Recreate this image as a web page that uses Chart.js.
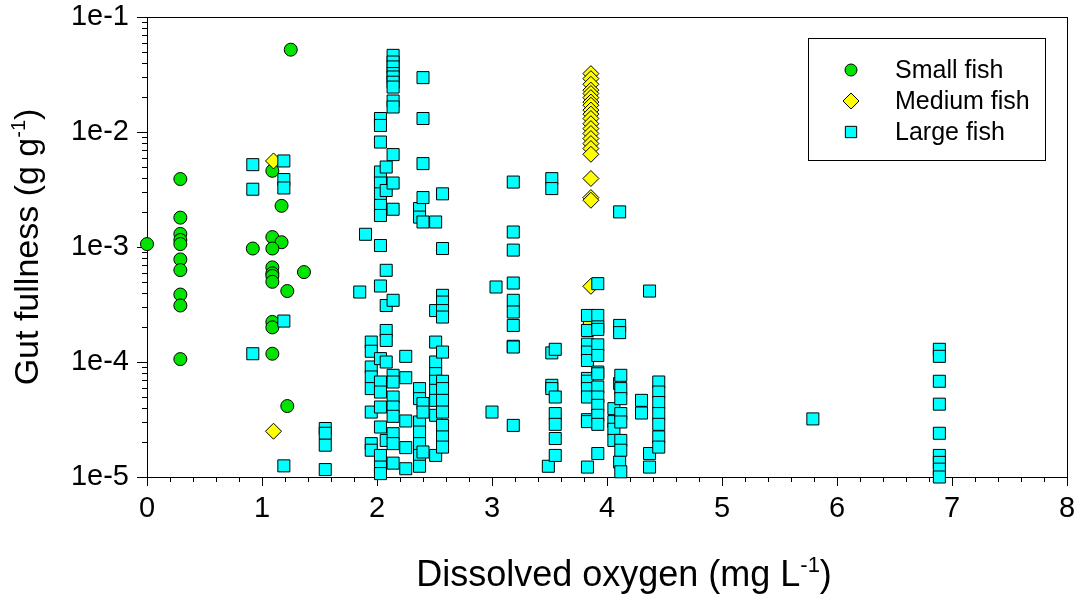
<!DOCTYPE html>
<html>
<head>
<meta charset="utf-8">
<script src="https://cdn.jsdelivr.net/npm/chart.js@4/dist/chart.umd.min.js"></script>
<style>
  html, body { margin: 0; padding: 0; background: #fff; }
  #wrap { width: 1081px; height: 596px; }
</style>
</head>
<body>
<div id="wrap"><canvas id="scatter" width="1081" height="596"></canvas></div>
<script>
// Small fish: dissolved oxygen (mg/L) vs gut fullness (g/g)
var smallX = [0, 0.29, 0.29, 0.29, 0.29, 0.29, 0.29, 0.29, 0.29, 0.29, 0.29,
  0.92, 1.09, 1.17, 1.09, 1.17, 1.09, 1.09, 1.09, 1.09, 1.09,
  1.365, 1.22, 1.09, 1.09, 1.09, 1.22, 1.25];
var smallY = [1.06e-3, 3.9e-3, 1.8e-3, 1.3e-3, 1.15e-3, 1.06e-3, 7.8e-4, 6.3e-4, 3.86e-4, 3.1e-4, 1.06e-4,
  9.7e-4, 4.6e-3, 2.28e-3, 1.22e-3, 1.1e-3, 9.7e-4, 6.65e-4, 5.9e-4, 5.6e-4, 4.98e-4,
  6.05e-4, 4.14e-4, 2.23e-4, 2.0e-4, 1.18e-4, 4.14e-5, 5.2e-2];

// Medium fish
var mediumX = [1.1, 1.1, 3.86, 3.86, 3.86, 3.86, 3.86, 3.86, 3.86, 3.86, 3.86, 3.86, 3.86,
  3.86, 3.86, 3.86, 3.86, 3.86, 3.86, 3.86, 3.86, 3.86, 3.86, 3.86, 3.86];
var mediumY = [5.6e-3, 2.5e-5, 0.0322, 0.0291, 0.026, 0.0231, 0.0216, 0.0199, 0.0182, 0.0171, 0.0155, 0.0143, 0.0131,
  0.0118, 0.0107, 0.0097, 0.00877, 0.00793, 0.00718, 0.0064, 0.00394, 0.00269, 0.00255, 0.000455, 0.000218];

// Large fish, grouped by oxygen value
var largeX = [0.92, 1.19, 1.55, 1.85, 1.90, 1.95, 2.03, 2.08, 2.14, 2.25, 2.37, 2.40, 2.51, 2.57,
  3.00, 3.035, 3.185, 3.49, 3.52, 3.55, 3.83, 3.92, 4.06, 4.11, 4.12, 4.30, 4.37, 4.45, 5.79, 6.89];
var largeY = [
  [5.2e-3, 3.18e-3, 1.18e-4],
  [5.6e-3, 3.86e-3, 3.26e-3, 2.27e-4, 1.25e-5],
  [2.64e-5, 2.4e-5, 1.89e-5, 1.16e-5],
  [4.06e-4],
  [1.29e-3],
  [1.49e-4, 1.24e-4, 9.05e-5, 7.41e-5, 5.87e-5, 3.67e-5, 1.95e-5, 1.71e-5],
  [0.0131, 0.0114, 0.00818, 0.00449, 0.0036, 0.0029, 0.0023, 0.00188, 0.00103, 4.58e-4,
    1.07e-4, 6.7e-5, 5.48e-5, 4.06e-5, 2.72e-5, 1.54e-5, 1.22e-5, 1.07e-5],
  [0.00496, 0.0031, 6.27e-4, 3.1e-4, 1.88e-4, 1.54e-4, 1.0e-4, 2.08e-5],
  [0.0464, 0.0406, 0.0368, 0.0322, 0.0301, 0.0271, 0.0246, 0.0186, 0.0165, 0.00636, 0.0036, 0.00213,
    3.44e-4, 7.66e-5, 6.7e-5, 4.96e-5, 4.06e-5, 3.37e-5, 2.38e-5, 1.95e-5, 1.32e-5],
  [1.12e-4, 7.3e-5, 3.07e-5, 1.8e-5, 1.18e-5],
  [0.00216, 0.00182, 5.87e-5, 4.8e-5, 3.01e-5, 2.46e-5, 1.95e-5, 1.54e-5, 1.24e-5],
  [0.0297, 0.0131, 0.00531, 0.00269, 0.00165, 4.35e-5, 3.67e-5, 1.65e-5],
  [0.00165, 2.8e-4, 1.49e-4, 1.0e-4, 7.92e-5, 6.8e-5, 5.67e-5, 4.64e-5, 3.44e-5, 1.54e-5],
  [0.0029, 9.7e-4, 3.8e-4, 3.32e-4, 2.8e-4, 2.46e-4, 1.22e-4, 6.8e-5, 5.87e-5, 4.64e-5,
    3.67e-5, 2.81e-5, 2.23e-5, 1.82e-5],
  [3.67e-5],
  [4.49e-4],
  [0.00367, 0.00135, 9.4e-4, 4.86e-4, 3.44e-4, 2.72e-4, 2.08e-4, 1.37e-4, 1.35e-4, 2.81e-5],
  [1.24e-5],
  [0.00393, 0.00322, 1.2e-4, 6.27e-5, 5.87e-5],
  [1.29e-4, 4.96e-5, 3.56e-5, 2.87e-5, 2.16e-5, 1.54e-5],
  [2.54e-4, 1.88e-4, 1.43e-4, 1.22e-4, 1.03e-4, 7.2e-5, 6.8e-5, 5.87e-5, 4.96e-5, 3.15e-5, 3.03e-5, 1.22e-5],
  [4.8e-4, 2.54e-4, 2.02e-4, 1.92e-4, 1.41e-4, 1.14e-4, 8.18e-5, 7.9e-5, 6.06e-5, 4.96e-5,
    4.2e-5, 3.44e-5, 2.87e-5, 1.6e-5],
  [3.93e-5, 3.03e-5, 2.6e-5, 2.08e-5],
  [0.00202, 2.08e-4, 1.8e-4, 6.5e-5, 1.35e-5],
  [7.66e-5, 5.87e-5, 4.8e-5, 3.56e-5, 3.01e-5, 2.08e-5, 1.71e-5, 1.11e-5],
  [4.64e-5, 3.6e-5],
  [4.14e-4, 1.6e-5, 1.22e-5],
  [6.7e-5, 5.48e-5, 4.44e-5, 3.56e-5, 2.87e-5, 2.23e-5, 1.82e-5],
  [3.2e-5],
  [1.29e-4, 1.12e-4, 6.8e-5, 4.3e-5, 2.4e-5, 1.54e-5, 1.34e-5, 1.17e-5, 1.0e-5]
];

var yTickValues = [1e-5, 1e-4, 1e-3, 1e-2, 1e-1];
var xTickValues = [0, 1, 2, 3, 4, 5, 6, 7, 8];

var FONT = "'Liberation Sans', Arial, sans-serif";

function pairs(xs, ys) {
  return xs.map(function (x, i) { return { x: x, y: ys[i] }; });
}
var largePoints = [];
largeX.forEach(function (x, i) {
  largeY[i].forEach(function (y) { largePoints.push({ x: x, y: y }); });
});

// axis frame + tick marks (under the points)
var frame = {
  id: 'frame',
  beforeDatasetsDraw: function (chart) {
    var ctx = chart.ctx, a = chart.chartArea, xs = chart.scales.x, ys = chart.scales.y;
    ctx.save();
    ctx.strokeStyle = '#000';
    ctx.lineWidth = 1;
    ctx.strokeRect(Math.round(a.left) + 0.5, Math.round(a.top) + 0.5,
      Math.round(a.right - a.left), Math.round(a.bottom - a.top));
    ctx.beginPath();
    for (var e = -5; e <= -1; e++) {
      for (var m = 1; m <= 9; m++) {
        if (e === -1 && m > 1) break;
        var py = Math.round(ys.getPixelForValue(m * Math.pow(10, e))) + 0.5;
        ctx.moveTo(a.left, py);
        ctx.lineTo(a.left - (m === 1 ? 10 : 5), py);
      }
    }
    for (var i = 0; i <= 40; i++) {
      var px = Math.round(xs.getPixelForValue(i / 5)) + 0.5;
      ctx.moveTo(px, a.bottom);
      ctx.lineTo(px, a.bottom + (i % 5 === 0 ? 9 : 5));
    }
    ctx.stroke();
    ctx.restore();
  }
};

function supText(ctx, main, sup, tail, cx, y, size) {
  ctx.font = size + 'px ' + FONT;
  var w1 = ctx.measureText(main).width, w3 = ctx.measureText(tail).width;
  ctx.font = Math.round(size * 0.6) + 'px ' + FONT;
  var w2 = ctx.measureText(sup).width;
  var x = cx - (w1 + w2 + w3) / 2;
  ctx.textAlign = 'left';
  ctx.textBaseline = 'alphabetic';
  ctx.font = size + 'px ' + FONT;
  ctx.fillText(main, x, y);
  ctx.font = Math.round(size * 0.6) + 'px ' + FONT;
  ctx.fillText(sup, x + w1, y - size * 0.38);
  ctx.font = size + 'px ' + FONT;
  ctx.fillText(tail, x + w1 + w2, y);
}

var titlesAndLegend = {
  id: 'titlesAndLegend',
  afterDraw: function (chart) {
    var ctx = chart.ctx, a = chart.chartArea;
    ctx.save();
    ctx.fillStyle = '#000';
    supText(ctx, 'Dissolved oxygen (mg L', '-1', ')', (a.left + a.right) / 2 + 17, 586, 36);
    ctx.translate(38, (a.top + a.bottom) / 2);
    ctx.rotate(-Math.PI / 2);
    supText(ctx, 'Gut fullness (g g', '-1', ')', 0, 0, 34);
    ctx.restore();

    // legend box
    ctx.save();
    ctx.strokeStyle = '#000';
    ctx.lineWidth = 1;
    ctx.fillStyle = '#fff';
    ctx.fillRect(808, 38, 237, 122);
    ctx.strokeRect(808.5, 38.5, 237, 122);
    var sets = chart.data.datasets.slice().sort(function (p, q) { return q.order - p.order; });
    sets.forEach(function (ds, i) {
      var cy = 70 + i * 31;
      ctx.fillStyle = ds.backgroundColor;
      ctx.strokeStyle = '#000';
      ctx.lineWidth = 1;
      Chart.helpers.drawPoint(ctx, { pointStyle: ds.pointStyle, radius: ds.legendRadius, rotation: 0, borderWidth: 1 }, 851, cy);
      ctx.fillStyle = '#000';
      ctx.font = '25px ' + FONT;
      ctx.textAlign = 'left';
      ctx.textBaseline = 'middle';
      ctx.fillText(ds.label, 895, cy + 1);
    });
    ctx.restore();
  }
};

new Chart(document.getElementById('scatter').getContext('2d'), {
  type: 'scatter',
  data: {
    datasets: [
      { label: 'Small fish', data: pairs(smallX, smallY), pointStyle: 'circle', pointRadius: 6.5,
        backgroundColor: '#00e400', borderColor: '#000', borderWidth: 1, order: 3, clip: false, legendRadius: 6 },
      { label: 'Medium fish', data: pairs(mediumX, mediumY), pointStyle: 'rectRot', pointRadius: 8,
        backgroundColor: '#ffff00', borderColor: '#000', borderWidth: 1, order: 2, clip: false, legendRadius: 8 },
      { label: 'Large fish', data: largePoints, pointStyle: 'rect', pointRadius: 8.5,
        backgroundColor: '#00ffff', borderColor: '#000', borderWidth: 1, order: 1, clip: false, legendRadius: 8 }
    ]
  },
  options: {
    responsive: false,
    animation: false,
    layout: { padding: { top: 17, right: 14, left: 0, bottom: 0 } },
    plugins: { legend: { display: false }, tooltip: { enabled: false } },
    scales: {
      x: {
        type: 'linear', min: 0, max: 8,
        afterFit: function (s) { s.height = 119; s.paddingLeft = 0; s.paddingRight = 0; },
        afterBuildTicks: function (s) { s.ticks = xTickValues.map(function (v) { return { value: v }; }); },
        grid: { display: false, drawTicks: false },
        border: { display: false },
        ticks: { color: '#000', padding: 15, font: { family: FONT, size: 29 } }
      },
      y: {
        type: 'logarithmic', min: 1e-5, max: 1e-1,
        afterFit: function (s) { s.width = 147; s.paddingTop = 0; s.paddingBottom = 0; },
        afterBuildTicks: function (s) { s.ticks = yTickValues.map(function (v) { return { value: v }; }); },
        grid: { display: false, drawTicks: false },
        border: { display: false },
        ticks: {
          color: '#000', padding: 18, autoSkip: false, font: { family: FONT, size: 29 },
          callback: function (v) { return '1e' + Math.round(Math.log10(v)); }
        }
      }
    }
  },
  plugins: [frame, titlesAndLegend]
});
</script>
</body>
</html>
